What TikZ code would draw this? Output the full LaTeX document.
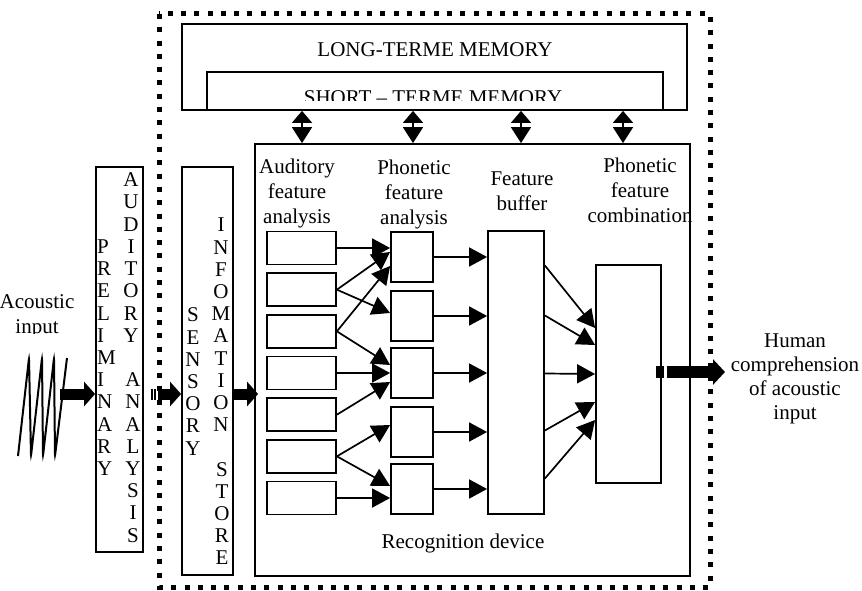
\documentclass[tikz,border=0pt]{standalone}
\usepackage{fontspec}
\setmainfont{Liberation Serif}
\usetikzlibrary{arrows.meta,positioning,calc,fit}

\begin{document}
\begin{tikzpicture}[x=1pt,y=-1pt,
    every node/.style={font=\fontsize{21}{25}\selectfont},
    box/.style={draw,line width=1.8pt,inner sep=0pt},
    glyph/.style={inner sep=0pt},
    feat/.style={-{Triangle[length=18pt,width=19pt]},line width=1.7pt},
    memlink/.style={{Triangle[length=12pt,width=20pt]}-{Triangle[length=16pt,width=20pt]},line width=1.8pt},
    fat/.style={line width=11pt,-{Triangle[length=11pt,width=24pt]}}
  ]
    \useasboundingbox (0,0) rectangle (862,591);
    \draw[line width=5pt,dash pattern=on 5pt off 8.3pt] (159,14) rectangle (710,587);

    \node[box,fit={(182,24) (687,110)}] (ltm) {};
    \node[box,fit={(207,72) (663,110)}] (stm) {};
    \node (ltmtext) at (435,50) {LONG-TERME MEMORY};
    \begin{scope}
      \clip (stm.north west) rectangle ([yshift=10pt]stm.south east);
      \node (stmtext) at (433,97.5) {SHORT \textendash\ TERME MEMORY};
    \end{scope}

    \node[box,fit={(96,167) (143,552)}] (prelim) {};
    \node[box,fit={(182,167) (233,575)}] (sensory) {};
    \node[box,fit={(255,144) (690,576)}] (rec) {};

    \foreach \ch [count=\i from 0] in {P,R,E,L,I,M,I,N,A,R,Y}
      \node[glyph,anchor=west] (pre-\i) at (97,246.6+22.2*\i) {\ch};
    \foreach \ch [count=\i from 0] in {A,U,D,I,T,O,R,Y}
      \node[glyph] (aud-\i) at (131,180+22.2*\i) {\ch};
    \foreach \ch [count=\i from 9] in {A,N,A,L,Y,S,I,S}
      \node[glyph] (ana-\i) at (133,180+22.2*\i) {\ch};
    \foreach \ch [count=\i from 0] in {S,E,N,S,O,R,Y}
      \node[glyph] (sen-\i) at (193,315+22.2*\i) {\ch};
    \foreach \ch [count=\i from 0] in {I,N,F,O,M,A,T,I,O,N}
      \node[glyph] (inf-\i) at (221,225+22.2*\i) {\ch};
    \foreach \ch [count=\i from 11] in {S,T,O,R,E}
      \node[glyph] (sto-\i) at (222,225+22.2*\i) {\ch};

    \begin{scope}
      \clip (0,250) rectangle (92,333.5);
      \node[align=center] (acoustic) at (37,316) {Acoustic\\input};
    \end{scope}
    \draw[line width=2pt,rounded corners=2pt] (18,456) -- (29,358) -- (31,456) -- (42,358)
      -- (43,456) -- (54,358) -- (55,456) -- (67,358);

    \node[align=center] (audtitle) at (297,193) {Auditory\\feature\\analysis};
    \node[align=center] (phontitle) at (414,194) {Phonetic\\feature\\analysis};
    \node[align=center] (buftitle) at (522,191) {Feature\\buffer};
    \node[align=center] (combtitle) at (640,190) {Phonetic\\feature\\combination};
    \node (recname) at (463,543) {Recognition device};

    \foreach \i in {1,...,7}
      \node[box,minimum width=69pt,minimum height=33pt] (a\i) at (301.5,{248+41.67*(\i-1)}) {};
    \foreach \y [count=\i] in {257,316,373,432,489}
      \node[box,minimum width=42pt,minimum height=50pt] (p\i) at (412,\y) {};
    \node[box,fit={(488,231) (544,514)}] (buf) {};
    \node[box,fit={(596,265) (661,483)}] (comb) {};

    \draw[feat] (a1.east) -- (a1.east -| p1.west);
    \draw[feat] (a2.east) -- ([yshift=5pt]p1.west);
    \draw[feat] (a2.east) -- ([yshift=3pt]p2.west);
    \draw[feat] (a3.east) -- ([yshift=-9pt]p1.west);
    \draw[feat] (a3.east) -- ([yshift=8pt]p3.west);
    \draw[feat] (a4.east) -- (a4.east -| p3.west);
    \draw[feat] (a5.east) -- ([yshift=-9pt]p3.west);
    \draw[feat] (a6.east) -- ([yshift=7pt]p4.west);
    \draw[feat] (a6.east) -- ([yshift=3pt]p5.west);
    \draw[feat] (a7.east) -- (a7.east -| p5.west);
    \foreach \i in {1,...,5}
      \draw[feat] (p\i.east) -- (p\i.east -| buf.west);
    \foreach \s/\t in {107/46,57/29,-1/0,-58/-28,-106/-46}
      \draw[feat] ([yshift=\s pt]buf.east) -- ([yshift=\t pt]comb.west);

    \foreach \x [count=\i] in {302,413,521,623} {
      \coordinate (tap\i) at (\x,0);
      \draw[memlink] (stm.south -| tap\i) -- (rec.north -| tap\i);
    }

    \coordinate (src) at (60,394);
    \coordinate (out) at (725,372);
    \draw[fat] (src) -- (src -| prelim.west);
    \draw[fat,dash pattern=on 2pt off 1pt on 2pt off 2pt on 200pt]
      ($(prelim.east |- src)+(7,0)$) -- (sensory.west |- src);
    \draw[fat] (sensory.east |- src) -- ($(rec.west |- src)+(4,0)$);
    \draw[fat,line width=12pt,-{Triangle[length=12pt,width=25pt]},
      dash pattern=on 4pt off 1.5pt on 3pt off 3pt on 300pt]
      ($(comb.east |- out)+(-6,0)$) -- (out);
    \node[align=center,font=\fontsize{21}{24}\selectfont] (human) at (795,379)
      {Human\\comprehension\\of acoustic\\input};
\end{tikzpicture}
\end{document}
